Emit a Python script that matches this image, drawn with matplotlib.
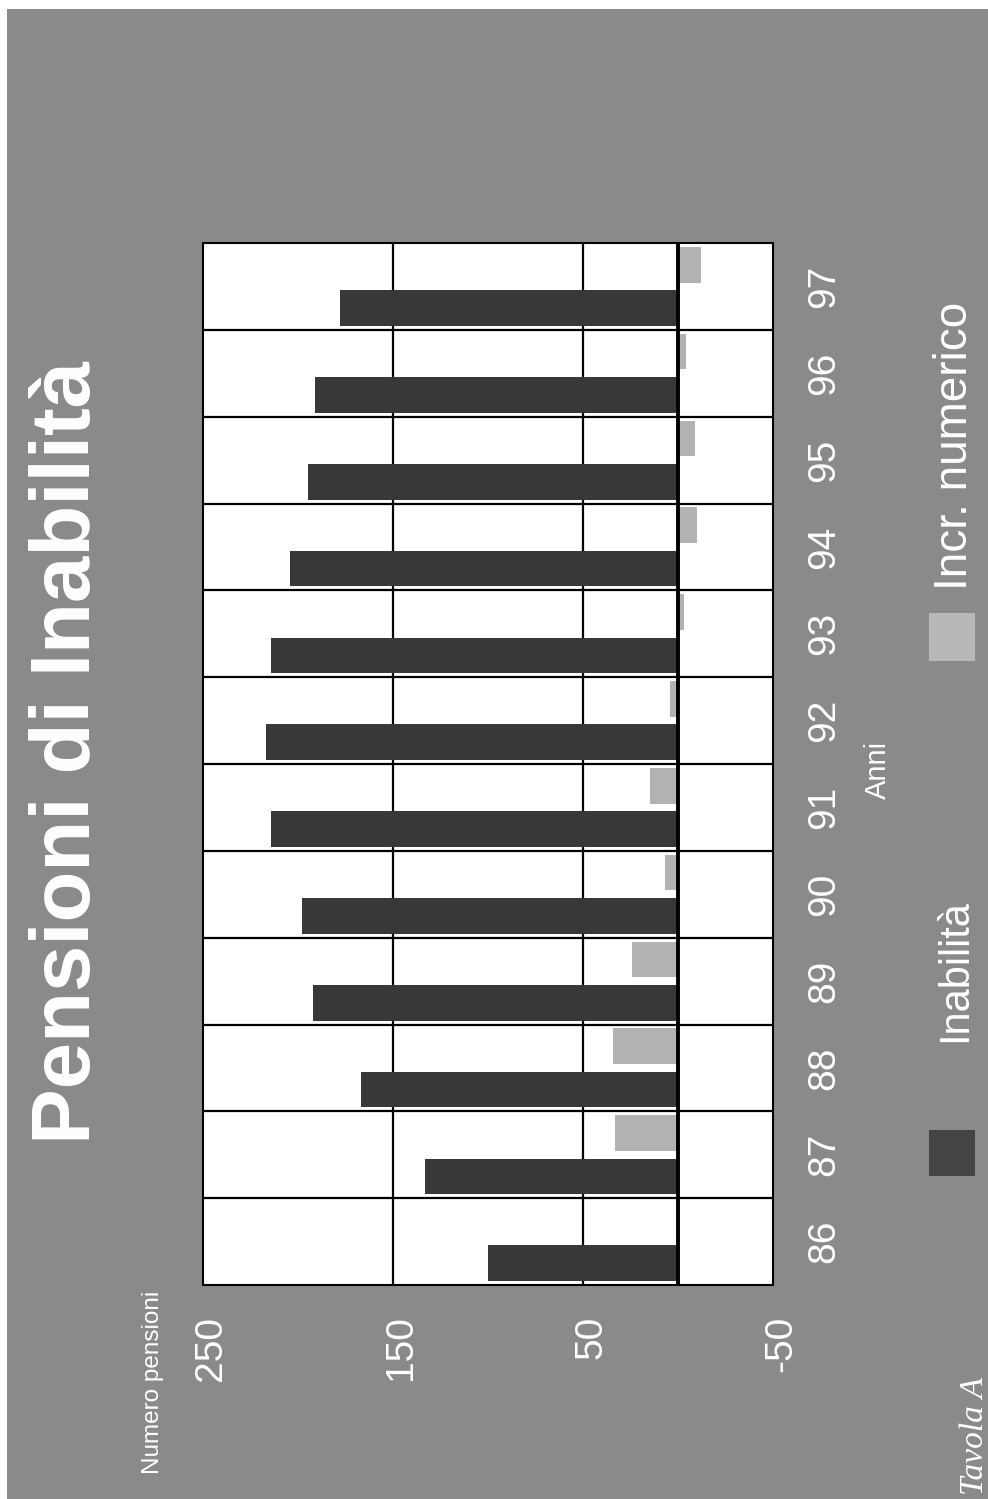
import numpy as np
import matplotlib
matplotlib.use("Agg")
import matplotlib.pyplot as plt
from matplotlib.patches import Rectangle
from matplotlib.transforms import ScaledTranslation

# Data (thousands of pensions)
anni = ["86", "87", "88", "89", "90", "91", "92", "93", "94", "95", "96", "97"]
inabilita = [100, 133, 167, 192, 198, 214, 217, 214, 204, 195, 191, 178]
incremento = [np.nan, 33, 34, 24, 7, 15, 4, -3, -10, -9, -4, -12]
value_ticks = [250, 150, 50, -50]
value_tick_labels = ["250", "150", "50", "-50"]

BG = "#8a8a8a"
DARK = "#383838"
LIGHT = "#b2b2b2"
FONT = "Liberation Sans"

W, H = 988, 1499
fig = plt.figure(figsize=(W / 100, H / 100), dpi=100)
fig.patch.set_facecolor("white")
fig.patches.append(Rectangle((7 / W, 0), 1 - 7 / W, 1 - 9 / H,
                             transform=fig.transFigure, facecolor=BG,
                             edgecolor="none", zorder=-10))

ax = fig.add_axes([203 / W, 1 - 1285 / H, 570 / W, 1042 / H])
ax.set_facecolor("white")

pos = np.arange(len(anni))
ax.barh(pos - 0.25, inabilita, height=0.41, color=DARK, zorder=2)
ax.barh(pos + 0.25, incremento, height=0.41, color=LIGHT, zorder=2)

ax.set_xlim(250, -50)
ax.set_ylim(-0.5, len(anni) - 0.5)

for v in (150, 50):
    ax.axvline(v, color="black", lw=1.6, zorder=1)
ax.axvline(0, color="black", lw=2.8, zorder=3)
for k in range(len(anni) - 1):
    ax.axhline(k + 0.5, color="black", lw=1.6, zorder=1)

for s in ax.spines.values():
    s.set_color("black")
    s.set_linewidth(1.5)

ax.set_xticks(value_ticks)
ax.set_xticklabels(value_tick_labels)
ax.tick_params(axis="x", length=0, pad=22, labelsize=28, labelcolor="white",
               labelrotation=90)
shift = ScaledTranslation(8 / 100, 0, fig.dpi_scale_trans)
for lab in ax.get_xticklabels():
    lab.set_fontfamily(FONT)
    lab.set_transform(lab.get_transform() + shift)

ax.yaxis.tick_right()
ax.set_yticks(pos)
ax.set_yticklabels(anni)
ax.tick_params(axis="y", length=0, pad=24, labelsize=28, labelcolor="white",
               labelrotation=90)
for lab in ax.get_yticklabels():
    lab.set_fontfamily(FONT)
    lab.set_verticalalignment("center")

# Titles and axis captions
fig.text(68 / W, 1 - 752 / H, "Pensioni di Inabilità", rotation=90,
         fontsize=60, weight="bold", color="white", ha="center", va="center",
         family=FONT)
fig.text(153 / W, 1 - 1382 / H, "Numero pensioni", rotation=90,
         fontsize=17.5, color="white", ha="center", va="center", family=FONT)
fig.text(878 / W, 1 - 770 / H, "Anni", rotation=90,
         fontsize=21, color="white", ha="center", va="center", family=FONT)

# Legend
fig.patches.append(Rectangle((929 / W, 1 - 1176 / H), 46 / W, 46 / H,
                             transform=fig.transFigure, facecolor="#454545",
                             edgecolor="none"))
fig.text(955 / W, 1 - 1042 / H, "Inabilità", rotation=90, fontsize=30,
         color="white", ha="center", va="bottom", family=FONT)
fig.patches.append(Rectangle((929 / W, 1 - 661 / H), 46 / W, 48 / H,
                             transform=fig.transFigure, facecolor="#b8b8b8",
                             edgecolor="none"))
fig.text(955 / W, 1 - 590 / H, "Incr. numerico", rotation=90, fontsize=33,
         color="white", ha="center", va="bottom", family=FONT)

fig.text(975 / W, 1 - 1495 / H, "Tavola A", rotation=90, fontsize=24,
         color="white", ha="center", va="bottom", family="Liberation Serif",
         style="italic")

fig.savefig("out.png", dpi=100, facecolor=fig.get_facecolor())
